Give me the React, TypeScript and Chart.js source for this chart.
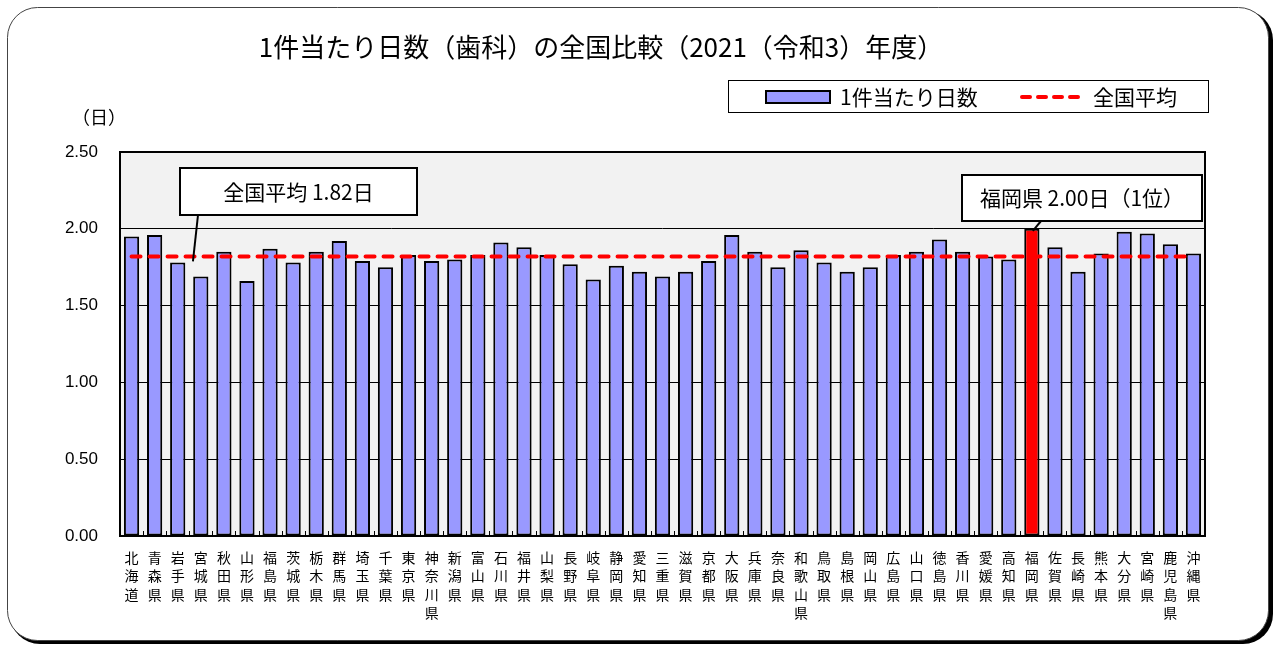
import React, { useEffect, useRef } from "react";
import { Chart, registerables } from "chart.js";

Chart.register(...registerables);

const prefectures = [
  "北海道", "青森県", "岩手県", "宮城県", "秋田県", "山形県", "福島県", "茨城県", "栃木県", "群馬県",
  "埼玉県", "千葉県", "東京県", "神奈川県", "新潟県", "富山県", "石川県", "福井県", "山梨県", "長野県",
  "岐阜県", "静岡県", "愛知県", "三重県", "滋賀県", "京都県", "大阪県", "兵庫県", "奈良県", "和歌山県",
  "鳥取県", "島根県", "岡山県", "広島県", "山口県", "徳島県", "香川県", "愛媛県", "高知県", "福岡県",
  "佐賀県", "長崎県", "熊本県", "大分県", "宮崎県", "鹿児島県", "沖縄県",
];

const daysPerCase = [
  1.95, 1.96, 1.78, 1.69, 1.85, 1.66, 1.87, 1.78, 1.85, 1.92,
  1.79, 1.75, 1.83, 1.79, 1.80, 1.83, 1.91, 1.88, 1.83, 1.77,
  1.67, 1.76, 1.72, 1.69, 1.72, 1.79, 1.96, 1.85, 1.75, 1.86,
  1.78, 1.72, 1.75, 1.83, 1.85, 1.93, 1.85, 1.82, 1.80, 2.00,
  1.88, 1.72, 1.84, 1.98, 1.97, 1.90, 1.84,
];

const nationalAverage = 1.82;
const highlightName = "福岡県";
const yTicks = [0, 0.5, 1.0, 1.5, 2.0, 2.5];

const titleText = "1件当たり日数（歯科）の全国比較（2021（令和3）年度）";
const seriesLabel = "1件当たり日数";
const avgLabel = "全国平均";
const unitLabel = "（日）";

const JP = '"Noto Sans CJK JP", "Noto Sans", sans-serif';

function roundRect(ctx: CanvasRenderingContext2D, x: number, y: number, w: number, h: number, r: number) {
  ctx.beginPath();
  ctx.moveTo(x + r, y);
  ctx.lineTo(x + w - r, y);
  ctx.arcTo(x + w, y, x + w, y + r, r);
  ctx.lineTo(x + w, y + h - r);
  ctx.arcTo(x + w, y + h, x + w - r, y + h, r);
  ctx.lineTo(x + r, y + h);
  ctx.arcTo(x, y + h, x, y + h - r, r);
  ctx.lineTo(x, y + r);
  ctx.arcTo(x, y, x + r, y, r);
  ctx.closePath();
}

export default function App() {
  const ref = useRef<HTMLCanvasElement | null>(null);

  useEffect(() => {
    if (!ref.current) return;
    const labels = prefectures.map((p) => p.split(""));
    const hiIdx = prefectures.indexOf(highlightName);
    const colors = prefectures.map((p) => (p === highlightName ? "#ff0000" : "#9999ff"));

    const decor = {
      id: "decor",
      beforeDraw(chart: any) {
        const ctx = chart.ctx as CanvasRenderingContext2D;
        const { left, top, right, bottom } = chart.chartArea;
        ctx.save();
        ctx.fillStyle = "#ffffff";
        ctx.fillRect(0, 0, chart.width, chart.height);
        // frame shadow
        roundRect(ctx, 10, 10, 1263, 634, 30);
        ctx.fillStyle = "#000";
        ctx.fill();
        roundRect(ctx, 7.5, 7.5, 1261, 633, 30);
        ctx.fillStyle = "#fff";
        ctx.fill();
        ctx.lineWidth = 1;
        ctx.strokeStyle = "#444";
        ctx.stroke();
        // plot bg
        ctx.fillStyle = "#f2f2f2";
        ctx.fillRect(left, top, right - left, bottom - top);
        ctx.restore();
      },
      afterDatasetsDraw(chart: any) {
        const ctx = chart.ctx as CanvasRenderingContext2D;
        const { left, top, right, bottom } = chart.chartArea;
        const x = chart.scales.x;
        const n = prefectures.length;
        const w = (right - left) / n;
        ctx.save();
        ctx.strokeStyle = "#000";
        ctx.lineWidth = 1;
        for (let i = 1; i < n; i++) {
          const px = Math.round(left + i * w) + 0.5;
          ctx.beginPath();
          ctx.moveTo(px, bottom);
          ctx.lineTo(px, bottom - 5);
          ctx.stroke();
        }
        ctx.lineWidth = 2;
        ctx.strokeRect(left, top, right - left, bottom - top);
        ctx.restore();
      },
      afterDraw(chart: any) {
        const ctx = chart.ctx as CanvasRenderingContext2D;
        const xs = chart.scales.x;
        const ys = chart.scales.y;
        ctx.save();
        // title
        ctx.fillStyle = "#000";
        ctx.font = `26px ${JP}`;
        ctx.textAlign = "center";
        ctx.textBaseline = "middle";
        ctx.fillText(titleText, 601, 47);
        // unit
        ctx.font = `18px ${JP}`;
        ctx.fillText(unitLabel, 99, 117);

        // legend
        ctx.lineWidth = 1;
        ctx.strokeStyle = "#000";
        ctx.fillStyle = "#fff";
        ctx.fillRect(728.5, 80.5, 480, 32);
        ctx.strokeRect(728.5, 80.5, 480, 32);
        ctx.fillStyle = "#9999ff";
        ctx.fillRect(766, 91, 64, 12);
        ctx.lineWidth = 2;
        ctx.strokeRect(766, 91, 64, 12);
        ctx.fillStyle = "#000";
        ctx.font = `21px ${JP}`;
        ctx.textAlign = "left";
        ctx.fillText(seriesLabel, 840, 97);
        ctx.strokeStyle = "#ff0000";
        ctx.lineWidth = 4;
        ctx.lineCap = "round";
        ctx.setLineDash([8, 8]);
        ctx.beginPath();
        ctx.moveTo(1022, 97);
        ctx.lineTo(1086, 97);
        ctx.stroke();
        ctx.setLineDash([]);
        ctx.lineCap = "butt";
        ctx.fillStyle = "#000";
        ctx.fillText(avgLabel, 1093, 97);

        // callout 1 (national average)
        const avgY = ys.getPixelForValue(nationalAverage);
        const ax = xs.getPixelForTick(2) + 0.66 * (xs.getPixelForTick(3) - xs.getPixelForTick(2));
        ctx.strokeStyle = "#000";
        ctx.lineWidth = 2;
        ctx.beginPath();
        ctx.moveTo(198, 215);
        ctx.lineTo(ax, avgY + 5);
        ctx.stroke();
        ctx.fillStyle = "#fff";
        ctx.fillRect(180, 168, 237, 47);
        ctx.strokeRect(180, 168, 237, 47);
        ctx.fillStyle = "#000";
        ctx.font = `21px ${JP}`;
        ctx.textAlign = "center";
        ctx.fillText(`${avgLabel} ${nationalAverage.toFixed(2)}日`, 298.5, 192);

        // callout 2 (top prefecture)
        const hx = xs.getPixelForTick(hiIdx);
        const hy = ys.getPixelForValue(daysPerCase[hiIdx]);
        ctx.beginPath();
        ctx.moveTo(1041, 221);
        ctx.lineTo(hx + 1, hy + 2);
        ctx.stroke();
        ctx.fillStyle = "#fff";
        ctx.fillRect(962, 175, 240, 46);
        ctx.strokeRect(962, 175, 240, 46);
        ctx.fillStyle = "#000";
        ctx.fillText(`${highlightName} ${daysPerCase[hiIdx].toFixed(2)}日（1位）`, 1082, 198);
        ctx.restore();
      },
    };

    const chart = new Chart(ref.current, {
      type: "bar",
      data: {
        labels,
        datasets: [
          {
            type: "line",
            label: avgLabel,
            data: prefectures.map(() => nationalAverage),
            borderColor: "#ff0000",
            borderWidth: 4,
            borderDash: [9, 9],
            borderCapStyle: "round",
            pointRadius: 0,
            fill: false,
            order: 0,
          } as any,
          {
            type: "bar",
            label: seriesLabel,
            data: daysPerCase,
            backgroundColor: colors,
            borderColor: "#000",
            borderWidth: 2,
            borderSkipped: false,
            barPercentage: 0.66,
            categoryPercentage: 1,
            order: 1,
          } as any,
        ],
      },
      options: {
        responsive: false,
        animation: false,
        layout: { padding: { left: 0, top: 152, right: 71, bottom: 0 } },
        plugins: { legend: { display: false }, title: { display: false }, tooltip: { enabled: false } },
        scales: {
          x: {
            offset: true,
            grid: { display: false },
            border: { display: false },
            ticks: {
              autoSkip: false,
              maxRotation: 0,
              minRotation: 0,
              color: "#000",
              padding: 4,
              font: { family: JP, size: 14, lineHeight: 1.32 },
            },
            afterFit: (s: any) => {
              s.height = 110;
            },
          },
          y: {
            min: 0,
            max: 2.5,
            afterBuildTicks: (s: any) => {
              s.ticks = yTicks.map((v) => ({ value: v }));
            },
            grid: { color: "#000", lineWidth: 1, drawTicks: false },
            border: { display: false },
            ticks: {
              color: "#000",
              padding: 22,
              font: { family: '"Liberation Sans", Arial, sans-serif', size: 17 },
              callback: (v: any) => Number(v).toFixed(2),
            },
            afterFit: (s: any) => {
              s.width = 120;
            },
          },
        },
      },
      plugins: [decor],
    });
    return () => chart.destroy();
  }, []);

  return (
    <canvas
      ref={ref}
      width={1276}
      height={646}
      style={{ position: "fixed", left: 0, top: 0, width: 1276, height: 646 }}
    />
  );
}
